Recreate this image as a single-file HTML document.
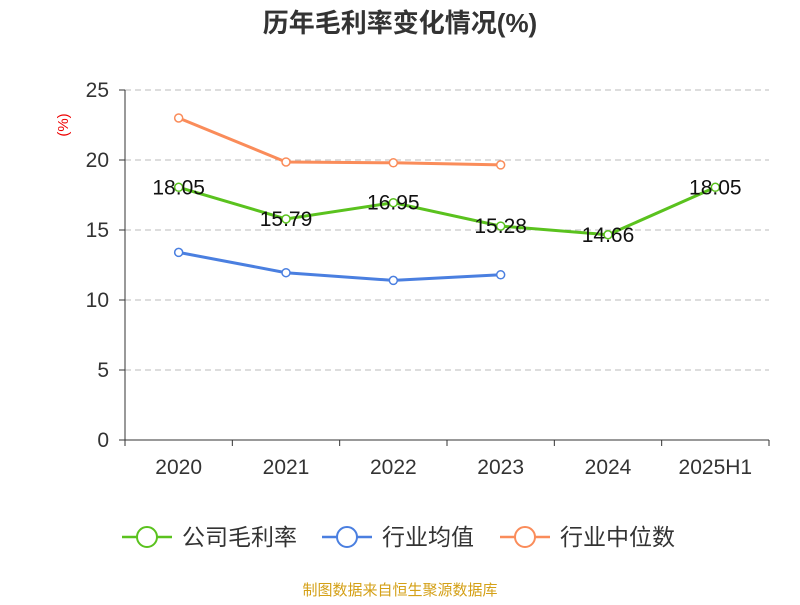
<!DOCTYPE html>
<html><head><meta charset="utf-8"><style>
body{margin:0;background:#fff;font-family:"Liberation Sans","Noto Sans CJK SC",sans-serif}
</style></head><body>
<svg id="c" width="800" height="600" xmlns="http://www.w3.org/2000/svg" font-family="Liberation Sans, Noto Sans CJK SC, sans-serif">
<text x="400" y="32" text-anchor="middle" font-size="26" font-weight="bold" fill="#333">历年毛利率变化情况(%)</text>
<text transform="translate(68,125) rotate(-90)" text-anchor="middle" font-size="15" fill="#e00">(%)</text>
<text x="400" y="595" text-anchor="middle" font-size="15" fill="#d4a017">制图数据来自恒生聚源数据库</text>
<g id="g"></g>
</svg>
<script>
const categories=["2020","2021","2022","2023","2024","2025H1"];
const companyVals=[18.05,15.79,16.95,15.28,14.66,18.05];
const avgVals=[13.4,11.95,11.4,11.8];
const medianVals=[23.0,19.86,19.8,19.65];
const yTicks=[0,5,10,15,20,25];
const NS="http://www.w3.org/2000/svg";
const g=document.getElementById('g');
const x0=125,x1=769,y0=440,y1=90,ymax=25;
const bw=(x1-x0)/categories.length;
const xs=i=>x0+bw*(i+0.5);
const ys=v=>y0-(v/ymax)*(y0-y1);
function mk(t,a){const e=document.createElementNS(NS,t);for(const k in a)e.setAttribute(k,a[k]);g.appendChild(e);return e;}
yTicks.forEach(t=>{
 if(t>0){const l=mk('line',{x1:x0,x2:x1,y1:ys(t),y2:ys(t),stroke:'#bbb','stroke-dasharray':'6,4'});
 
 }
 const k=mk('line',{x1:x0-6,x2:x0,y1:ys(t),y2:ys(t),stroke:'#333'});
 
 
 const tx=mk('text',{x:x0-16,y:ys(t)+7,'text-anchor':'end','font-size':21,fill:'#333'});tx.textContent=t;
 
 
});
const ya=mk('line',{x1:x0,x2:x0,y1:y1,y2:y0,stroke:'#333'});


const xa=mk('line',{x1:x0,x2:x1,y1:y0,y2:y0,stroke:'#333'});


for(let i=0;i<=categories.length;i++){const t=mk('line',{x1:x0+bw*i,x2:x0+bw*i,y1:y0,y2:y0+6,stroke:'#333'});
 
 }
categories.forEach((c,i)=>{const t=mk('text',{x:xs(i),y:474,'text-anchor':'middle','font-size':21,fill:'#333'});t.textContent=c;
 
 });
function series(vals,color,name,labels){
 const p=mk('polyline',{points:vals.map((v,i)=>xs(i)+','+ys(v)).join(' '),fill:'none',stroke:color,'stroke-width':3});
 
 
 vals.forEach((v,i)=>{const c=mk('circle',{cx:xs(i),cy:ys(v),r:4,fill:'#fff',stroke:color,'stroke-width':1.5});
  
  
  if(labels){const t=mk('text',{x:xs(i),y:ys(v)+7,'text-anchor':'middle','font-size':21,fill:'#111'});t.textContent=v.toFixed(2);
   
   }
 });
}
series(medianVals,'#fa8c5a','industry-median',false);
series(avgVals,'#4a7fe0','industry-average',false);
series(companyVals,'#5ac21e','company-gross-margin',true);
const leg=[["公司毛利率",'#5ac21e',122],["行业均值",'#4a7fe0',322],["行业中位数",'#fa8c5a',500]];
leg.forEach(([n,c,x])=>{
 const l=mk('line',{x1:x,x2:x+50,y1:537,y2:537,stroke:c,'stroke-width':2.5});
 
 
 const ci=mk('circle',{cx:x+25,cy:537,r:10,fill:'#fff',stroke:c,'stroke-width':2});
 
 
 const t=mk('text',{x:x+60,y:545,'font-size':23,fill:'#333'});t.textContent=n;
 
 
});
</script>
</body></html>
